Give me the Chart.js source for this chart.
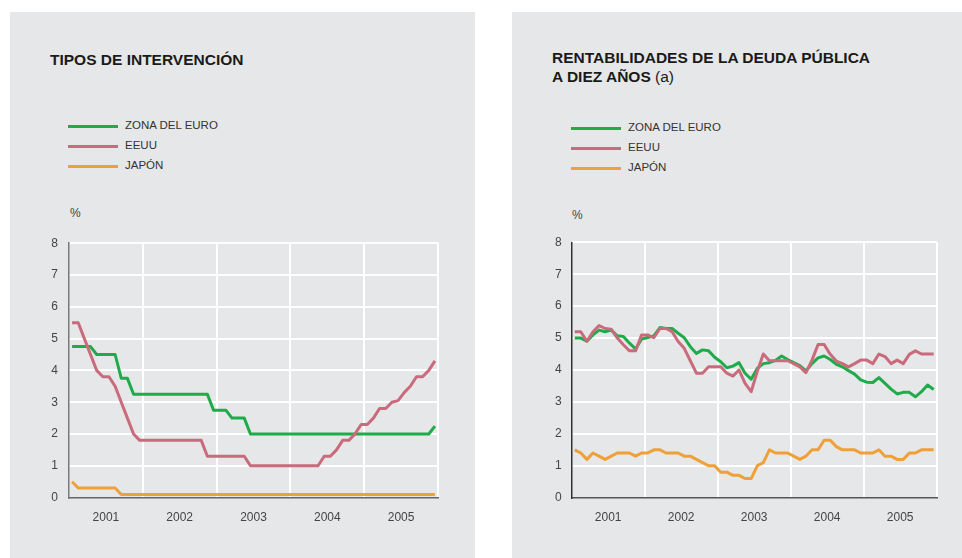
<!DOCTYPE html>
<html>
<head>
<meta charset="utf-8">
<script src="https://cdn.jsdelivr.net/npm/chart.js@4/dist/chart.umd.min.js"></script>
<style>
  html, body { margin:0; padding:0; background:#ffffff; }
  body { width:962px; height:558px; position:relative; overflow:hidden; font-family:"Liberation Sans", Arial, sans-serif; }
  .panel { position:absolute; background:#e6e7e8; top:12px; height:560px; }
  .title { position:absolute; font-weight:bold; font-size:15.5px; color:#1a1a1a; line-height:19px; white-space:nowrap; }
  .title .n { font-weight:normal; }
  .leg { position:absolute; font-size:11.5px; color:#333; white-space:nowrap; }
  .leg .row { position:relative; height:20px; }
  .leg .sw { position:absolute; left:0; top:7px; width:50px; height:3px; }
  .leg .lb { position:absolute; left:57px; top:0; line-height:14px; }
  .unit { position:absolute; font-size:12px; color:#444; }
  canvas { position:absolute; }
</style>
</head>
<body>
<div class="panel" style="left:10px; width:465px;"></div>
<div class="panel" style="left:512px; width:450px;"></div>

<div class="title" style="left:50px; top:50px;">TIPOS DE INTERVENCIÓN</div>
<div class="title" style="left:552px; top:48px;">RENTABILIDADES DE LA DEUDA PÚBLICA<br>A DIEZ AÑOS <span class="n">(a)</span></div>

<div class="leg" id="leg1" style="left:68px; top:118px;"></div>
<div class="leg" id="leg2" style="left:571px; top:120px;"></div>

<div class="unit" style="left:70px; top:206px;">%</div>
<div class="unit" style="left:572px; top:208px;">%</div>

<canvas id="c1" width="460" height="320" style="left:10px; top:225px; width:460px; height:320px;"></canvas>
<canvas id="c2" width="450" height="320" style="left:512px; top:225px; width:450px; height:320px;"></canvas>

<script>
// ---------- data ----------
const seriesNames = ['ZONA DEL EURO', 'EEUU', 'JAPÓN'];
const yearLabels = ['2001', '2002', '2003', '2004', '2005'];
const yTicks = [0, 1, 2, 3, 4, 5, 6, 7, 8];

// Left: policy rates, monthly Jan 2001 - Dec 2005
const policyEuro = [
  4.75,4.75,4.75,4.75,4.5,4.5,4.5,4.5,3.75,3.75,3.25,3.25,
  3.25,3.25,3.25,3.25,3.25,3.25,3.25,3.25,3.25,3.25,3.25,2.75,
  2.75,2.75,2.5,2.5,2.5,2.0,2.0,2.0,2.0,2.0,2.0,2.0,
  2.0,2.0,2.0,2.0,2.0,2.0,2.0,2.0,2.0,2.0,2.0,2.0,
  2.0,2.0,2.0,2.0,2.0,2.0,2.0,2.0,2.0,2.0,2.0,2.25
];
const policyUS = [
  5.5,5.5,5.0,4.5,4.0,3.8,3.8,3.5,3.0,2.5,2.0,1.8,
  1.8,1.8,1.8,1.8,1.8,1.8,1.8,1.8,1.8,1.8,1.3,1.3,
  1.3,1.3,1.3,1.3,1.3,1.0,1.0,1.0,1.0,1.0,1.0,1.0,
  1.0,1.0,1.0,1.0,1.0,1.3,1.3,1.5,1.8,1.8,2.0,2.3,
  2.3,2.5,2.8,2.8,3.0,3.05,3.3,3.5,3.8,3.8,4.0,4.3
];
const policyJapan = [
  0.5,0.3,0.3,0.3,0.3,0.3,0.3,0.3,0.1,0.1,0.1,0.1,
  0.1,0.1,0.1,0.1,0.1,0.1,0.1,0.1,0.1,0.1,0.1,0.1,
  0.1,0.1,0.1,0.1,0.1,0.1,0.1,0.1,0.1,0.1,0.1,0.1,
  0.1,0.1,0.1,0.1,0.1,0.1,0.1,0.1,0.1,0.1,0.1,0.1,
  0.1,0.1,0.1,0.1,0.1,0.1,0.1,0.1,0.1,0.1,0.1,0.1
];

// Right: 10-year government bond yields, monthly Jan 2001 - Dec 2005
const bondEuro = [
  5.0,5.0,4.9,5.1,5.25,5.2,5.25,5.07,5.05,4.84,4.66,4.97,
  5.02,5.07,5.33,5.3,5.3,5.15,5.01,4.73,4.52,4.63,4.6,4.4,
  4.26,4.07,4.12,4.23,3.9,3.71,4.05,4.2,4.23,4.3,4.44,4.33,
  4.23,4.14,3.97,4.2,4.38,4.44,4.33,4.18,4.1,3.98,3.87,3.69,
  3.62,3.61,3.76,3.58,3.4,3.25,3.3,3.3,3.16,3.32,3.53,3.39
];
const bondUS = [
  5.2,5.2,4.9,5.2,5.39,5.3,5.28,5.0,4.79,4.6,4.6,5.1,
  5.1,5.01,5.3,5.3,5.2,4.89,4.68,4.29,3.9,3.9,4.1,4.1,
  4.1,3.9,3.81,4.0,3.58,3.32,3.95,4.5,4.29,4.29,4.29,4.29,
  4.2,4.1,3.92,4.31,4.8,4.8,4.49,4.28,4.2,4.1,4.2,4.31,
  4.31,4.2,4.5,4.42,4.2,4.31,4.2,4.49,4.6,4.5,4.5,4.5
];
const bondJapan = [
  1.5,1.4,1.2,1.4,1.3,1.2,1.3,1.4,1.4,1.4,1.3,1.4,
  1.4,1.5,1.5,1.4,1.4,1.4,1.3,1.3,1.2,1.1,1.0,1.0,
  0.8,0.8,0.7,0.7,0.6,0.6,1.0,1.1,1.5,1.4,1.4,1.4,
  1.3,1.2,1.3,1.5,1.5,1.8,1.8,1.6,1.5,1.5,1.5,1.4,
  1.4,1.4,1.5,1.3,1.3,1.2,1.2,1.4,1.4,1.5,1.5,1.5
];

// ---------- styles ----------
const COLORS = ['rgb(32,171,74)', 'rgb(201,107,124)', 'rgb(240,160,56)'];
const ORDER = [1, 0, 2]; // lower order drawn on top

function buildLegend(id) {
  const el = document.getElementById(id);
  seriesNames.forEach((n, i) => {
    const row = document.createElement('div');
    row.className = 'row';
    row.innerHTML = '<div class="sw" style="background:' + COLORS[i] + '"></div><div class="lb">' + n + '</div>';
    el.appendChild(row);
  });
}
buildLegend('leg1');
buildLegend('leg2');

function toPoints(arr) { return arr.map((v, i) => ({ x: i + 0.5, y: v })); }

function makeChart(id, seriesList, geom) {
  const datasets = seriesList.map((arr, i) => ({
    label: seriesNames[i],
    data: toPoints(arr),
    borderColor: COLORS[i],
    backgroundColor: COLORS[i],
    borderWidth: 3,
    pointRadius: 0,
    tension: 0,
    fill: false,
    order: ORDER[i],
    borderJoinStyle: 'round',
    borderCapStyle: 'butt'
  }));
  return new Chart(document.getElementById(id), {
    type: 'line',
    data: { datasets },
    options: {
      responsive: false,
      animation: false,
      events: [],
      layout: { padding: { left: 0, top: geom.top, right: geom.right, bottom: 0 } },
      plugins: { legend: { display: false }, tooltip: { enabled: false } },
      scales: {
        x: {
          type: 'linear',
          min: 0, max: 60,
          afterFit: s => { s.height = geom.xh; },
          border: { display: true, color: geom.bottomColor, width: 1.5, z: 1 },
          grid: {
            drawTicks: false,
            lineWidth: 2,
            color: c => (c.tick && c.tick.value % 12 === 0 && c.tick.value !== 0) ? '#ffffff' : 'rgba(0,0,0,0)'
          },
          ticks: {
            stepSize: 6,
            autoSkip: false,
            maxRotation: 0,
            padding: 13,
            color: '#444',
            font: { family: '"Liberation Sans", Arial, sans-serif', size: 12 },
            callback: v => (v % 12 === 6) ? yearLabels[(v - 6) / 12] : ''
          }
        },
        y: {
          min: yTicks[0], max: yTicks[yTicks.length - 1],
          afterFit: s => { s.width = geom.yw; },
          border: { display: true, color: geom.leftColor, width: 1.5, z: 1 },
          grid: {
            drawTicks: false,
            lineWidth: 2,
            color: c => (c.tick && c.tick.value !== 0) ? '#ffffff' : 'rgba(0,0,0,0)'
          },
          afterBuildTicks: s => { s.ticks = yTicks.map(v => ({ value: v })); },
          ticks: {
            padding: geom.ypad,
            color: '#444',
            font: { family: '"Liberation Sans", Arial, sans-serif', size: 12 },
            callback: v => String(v)
          }
        }
      }
    }
  });
}

makeChart('c1', [policyEuro, policyUS, policyJapan],
  { top: 16, right: 32, xh: 47.4, yw: 59, ypad: 11, leftColor: '#7a7a7a', bottomColor: '#666' });
makeChart('c2', [bondEuro, bondUS, bondJapan],
  { top: 17.3, right: 25.3, xh: 47.3, yw: 59.7, ypad: 10, leftColor: '#333', bottomColor: '#555' });
</script>
</body>
</html>
